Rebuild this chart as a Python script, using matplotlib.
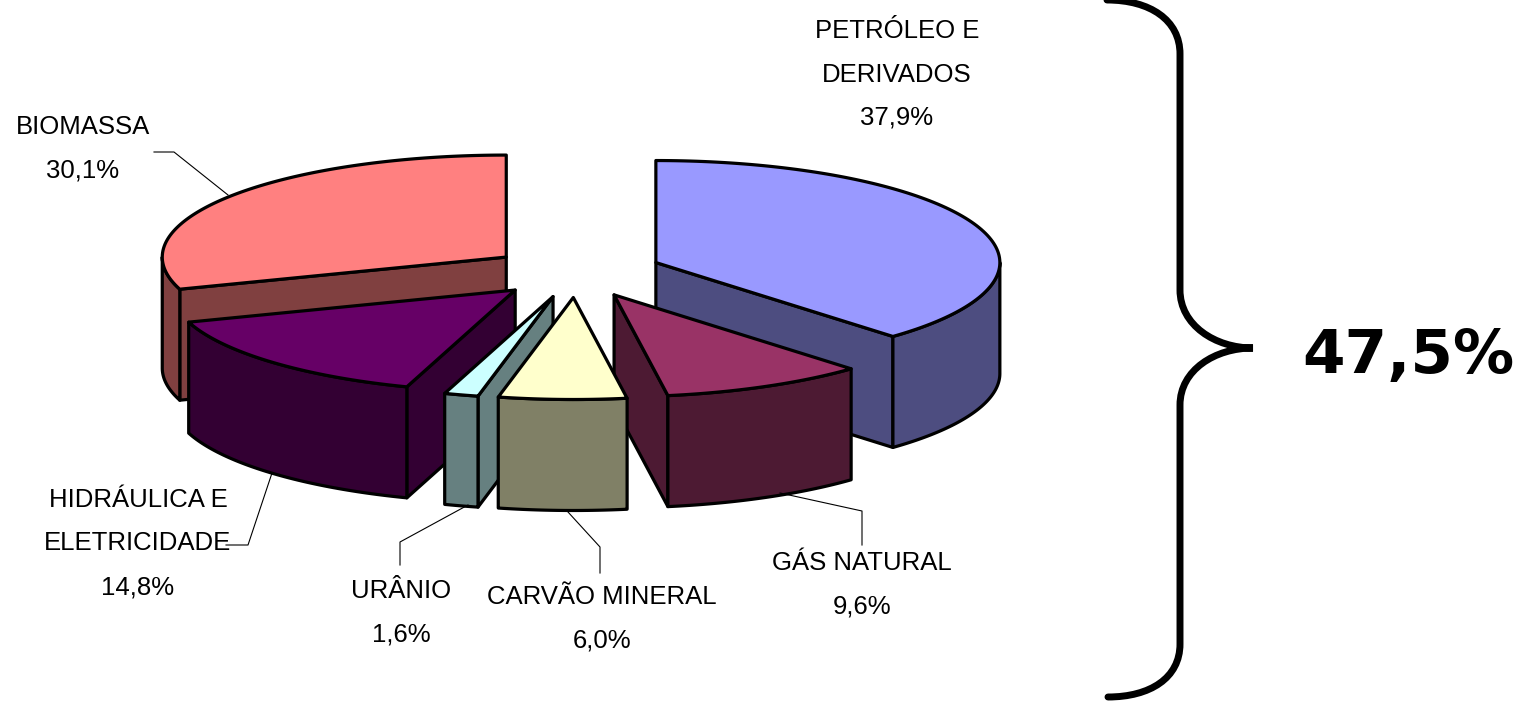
import numpy as np
import matplotlib
matplotlib.use("Agg")
import matplotlib.pyplot as plt
from matplotlib.patches import Polygon, PathPatch
from matplotlib.path import Path

# clockwise from 12 o'clock
names = ["PETRÓLEO E\nDERIVADOS", "GÁS NATURAL", "CARVÃO MINERAL", "URÂNIO",
         "HIDRÁULICA E\nELETRICIDADE", "BIOMASSA"]
values = [37.9, 9.6, 6.0, 1.6, 14.8, 30.1]
value_labels = ["37,9%", "9,6%", "6,0%", "1,6%", "14,8%", "30,1%"]
top_colors = ["#9999FF", "#993366", "#FFFFCC", "#CCFFFF", "#660066", "#FF8080"]
side_colors = ["#4D4D80", "#4D1A33", "#808066", "#668080", "#330033", "#804040"]
total_label = "47,5%"

# label centres (x, y of first line)
label_x = [897, 862, 602, 401, 138, 83]
label_y = [31, 563, 597, 591, 500, 127]
line_gap = 43.5

leaders = [
    ([862, 862, 780], [545, 511, 493]),
    ([600, 600, 568], [573, 547, 512]),
    ([400, 400, 468], [565, 542, 505]),
    ([226, 248, 272], [545, 545, 473]),
    ([154, 174, 228], [152, 152, 195]),
]

# pie geometry, in pixels
cx, cy = 576, 272
rx, ry = 344, 102
depth = 111
explode = 0.25
lw = 2.3

fig = plt.figure(figsize=(15.22, 7.01), dpi=100)
ax = fig.add_axes([0, 0, 1, 1])
ax.set_xlim(0, 1522)
ax.set_ylim(701, 0)
ax.axis("off")

edges = np.cumsum([0] + values) / sum(values) * 360
mids = (edges[:-1] + edges[1:]) / 2


def rim(x0, y0, a):
    a = np.radians(a)
    return x0 + rx * np.sin(a), y0 - ry * np.cos(a)


def poly(pts, color):
    ax.add_patch(Polygon(pts, closed=True, facecolor=color, edgecolor="black",
                         linewidth=lw, joinstyle="round"))


def draw_slice(i):
    a0, a1 = edges[i], edges[i + 1]
    m = np.radians(mids[i])
    x0 = cx + explode * rx * np.sin(m)
    y0 = cy - explode * ry * np.cos(m)

    # cut faces turned towards the viewer
    for a, visible in [(a0, 180 < a0 < 360), (a1, 0 < a1 < 180)]:
        if visible:
            xe, ye = rim(x0, y0, a)
            poly([(x0, y0), (xe, ye), (xe, ye + depth), (x0, y0 + depth)], side_colors[i])

    # outer wall, front half only
    w0, w1 = max(a0, 90), min(a1, 270)
    if w1 > w0:
        xs, ys = rim(x0, y0, np.linspace(w0, w1, 60))
        pts = list(zip(xs, ys)) + list(zip(xs[::-1], ys[::-1] + depth))
        poly(pts, side_colors[i])

    # top
    xs, ys = rim(x0, y0, np.linspace(a0, a1, 120))
    poly([(x0, y0)] + list(zip(xs, ys)), top_colors[i])


# back to front
for i in [5, 0, 4, 1, 3, 2]:
    draw_slice(i)

for xs, ys in leaders:
    ax.plot(xs, ys, color="black", linewidth=0.8, zorder=1)

for name, val, x, y in zip(names, value_labels, label_x, label_y):
    for k, line in enumerate(name.split("\n") + [val]):
        ax.text(x, y + k * line_gap, line, ha="center", va="center",
                family="Liberation Sans", fontsize=18.5, color="black")

# brace
brace_verts = [(1107, 0), (1150, 0), (1180, 20), (1180, 54),
               (1180, 290), (1180, 325), (1215, 348), (1253, 348),
               (1215, 348), (1180, 370), (1180, 405),
               (1180, 644), (1180, 678), (1150, 697), (1108, 697)]
brace_codes = [Path.MOVETO, Path.CURVE4, Path.CURVE4, Path.CURVE4,
               Path.LINETO, Path.CURVE4, Path.CURVE4, Path.CURVE4,
               Path.CURVE4, Path.CURVE4, Path.CURVE4,
               Path.LINETO, Path.CURVE4, Path.CURVE4, Path.CURVE4]
ax.add_patch(PathPatch(Path(brace_verts, brace_codes), facecolor="none",
                       edgecolor="black", linewidth=5, capstyle="round"))

ax.text(1408, 373, total_label, ha="center", va="baseline", family="DejaVu Sans",
        fontsize=44, fontweight="bold", color="black")

fig.savefig("out.png", dpi=100)
